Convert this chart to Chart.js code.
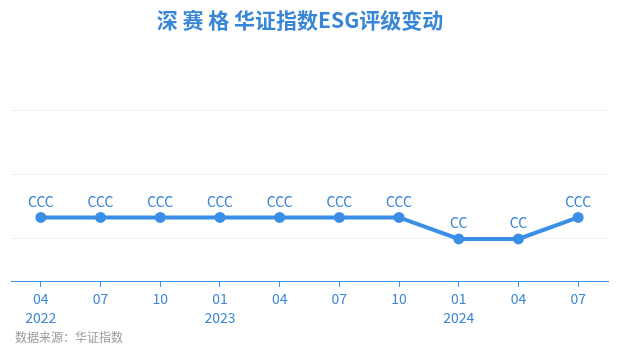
<!DOCTYPE html>
<html><head><meta charset="utf-8">
<script src="https://cdn.jsdelivr.net/npm/chart.js@4.4.1/dist/chart.umd.min.js"></script>
<style>html,body{margin:0;padding:0;background:#fff}#wrap{width:618px;height:355px}</style>
</head><body><div id="wrap"><canvas id="c" width="618" height="355"></canvas></div>
<script>
const categories = ['04','07','10','01','04','07','10','01','04','07'];
const years = ['2022','','','2023','','','','2024','',''];
const ratings = ['CCC','CCC','CCC','CCC','CCC','CCC','CCC','CC','CC','CCC'];
const ratingLevels = {CC: 2, CCC: 3};
const gridValues = [2, 5, 8];
const titleText = '深 赛 格 华证指数ESG评级变动';
const sourceText = '数据来源：华证指数';

const BLUE = '#3a8ee6';
const TXT = '#3a86d6';
const FONT = '"Noto Sans CJK SC","Noto Sans",sans-serif';

const labelPlugin = {
  id: 'ptLabels',
  afterDatasetsDraw(chart) {
    const ctx = chart.ctx;
    const meta = chart.getDatasetMeta(0);
    ctx.save();
    ctx.font = '14px ' + FONT;
    ctx.fillStyle = TXT;
    ctx.textAlign = 'center';
    ctx.textBaseline = 'middle';
    meta.data.forEach((p, i) => ctx.fillText(ratings[i], p.x, p.y - 16));
    ctx.restore();
  }
};

const textPlugin = {
  id: 'texts',
  afterDraw(chart) {
    const ctx = chart.ctx;
    ctx.save();
    ctx.textBaseline = 'middle';
    ctx.font = 'bold 21px ' + FONT;
    ctx.fillStyle = TXT;
    ctx.textAlign = 'center';
    ctx.fillText(titleText, 300, 20);
    ctx.font = '12px ' + FONT;
    ctx.fillStyle = '#9a9a9a';
    ctx.textAlign = 'left';
    ctx.fillText(sourceText, 15, 337);
    ctx.restore();
  }
};

new Chart(document.getElementById('c'), {
  type: 'line',
  data: {
    labels: categories.map((m, i) => years[i] ? [m, years[i]] : [m]),
    datasets: [{
      data: ratings.map(r => ratingLevels[r]),
      borderColor: BLUE,
      backgroundColor: BLUE,
      borderWidth: 4,
      pointRadius: 5.5,
      pointBackgroundColor: BLUE,
      pointBorderWidth: 0,
      tension: 0
    }]
  },
  options: {
    responsive: false,
    animation: false,
    layout: {padding: {left: 11, right: 10, top: 110, bottom: 26}},
    plugins: {
      legend: {display: false},
      tooltip: {enabled: false},
      title: {display: false},
      subtitle: {display: false}
    },
    scales: {
      x: {
        offset: true,
        border: {display: true, color: BLUE, width: 1},
        grid: {display: true, drawOnChartArea: false, drawTicks: true, tickLength: 5, color: BLUE, offset: false},
        ticks: {color: TXT, font: {family: FONT, size: 14, lineHeight: 1.36}, padding: 2, maxRotation: 0, autoSkip: false}
      },
      y: {
        min: 0, max: 8,
        afterBuildTicks: s => { s.ticks = gridValues.map(v => ({value: v})); },
        border: {display: false},
        grid: {color: '#f0f0f0', drawTicks: false},
        ticks: {display: false}
      }
    }
  },
  plugins: [labelPlugin, textPlugin]
});
</script></body></html>
